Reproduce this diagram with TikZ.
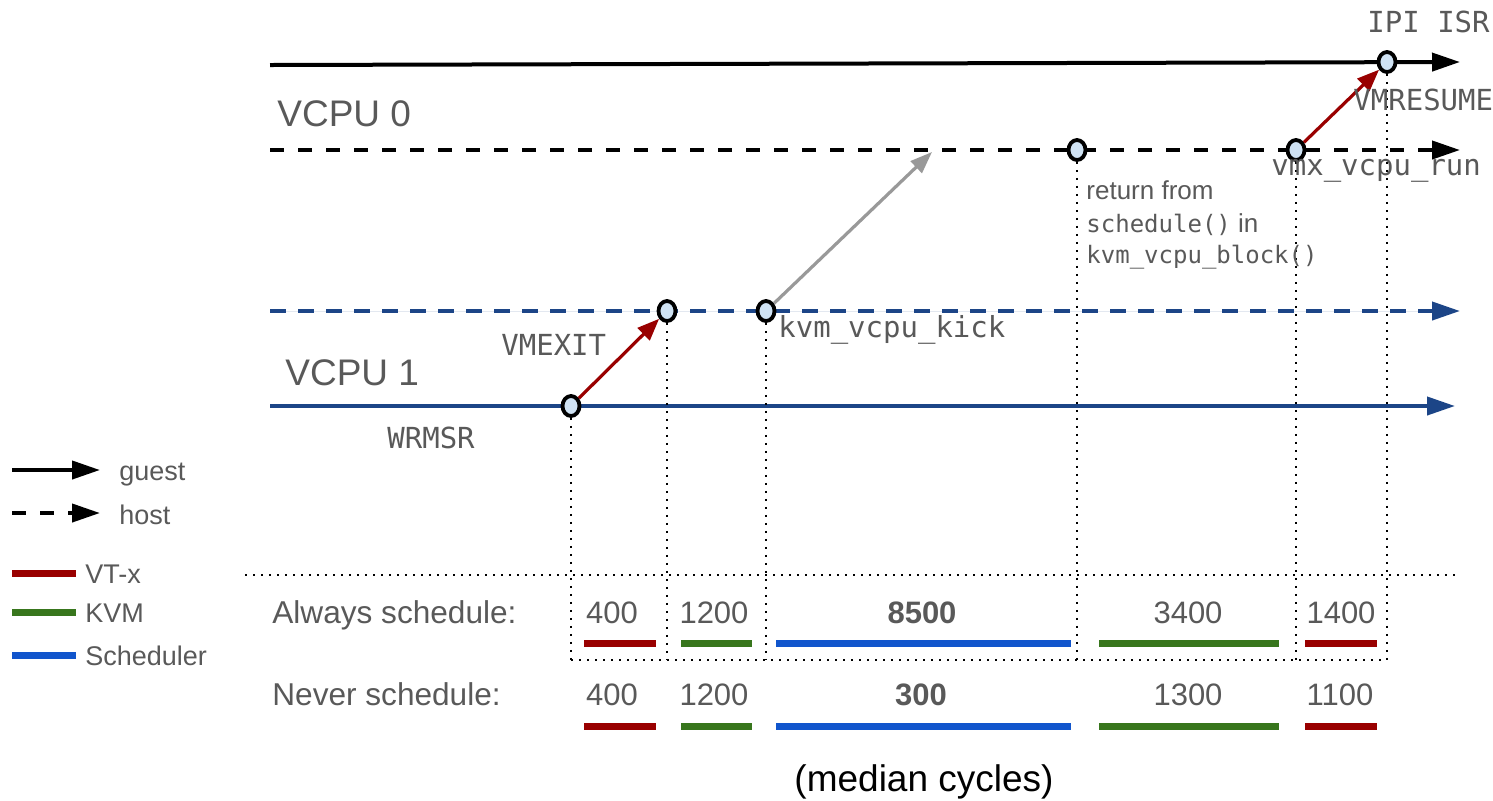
\documentclass[tikz,border=0pt]{standalone}
\usepackage{fontspec}
\setmainfont{Liberation Sans}
\setmonofont{DejaVu Sans Mono}
\usetikzlibrary{arrows.meta,shapes.geometric}

\definecolor{txt}{HTML}{595959}
\definecolor{vtx}{HTML}{990000}
\definecolor{kvm}{HTML}{38761D}
\definecolor{sched}{HTML}{1155CC}
\definecolor{vblue}{HTML}{1C4587}
\definecolor{kick}{HTML}{999999}
\definecolor{evfill}{HTML}{CFE2F3}

\begin{document}
\begin{tikzpicture}[x=0.5pt,y=-0.5pt,
  timeline/.style={line width=2pt,-{Triangle[length=14pt,width=9pt]}},
  hostline/.style={timeline,dash pattern=on 7pt off 7pt},
  evt/.style={ellipse,draw=black,line width=1.9pt,fill=evfill,
    minimum width=8.5pt,minimum height=10pt,inner sep=0pt},
  jump/.style={line width=1.6pt,-{Triangle[length=11pt,width=8.5pt]}},
  guide/.style={line width=1pt,dash pattern=on 1pt off 3pt},
  mono/.style={font=\ttfamily\fontsize{14.5pt}{17pt}\selectfont,text=txt,inner sep=0pt,anchor=base west},
  smallmono/.style={font=\fontsize{13pt}{15pt}\selectfont,text=txt,inner sep=0pt,anchor=base west},
  cpulabel/.style={font=\fontsize{18.5pt}{22pt}\selectfont,text=txt,inner sep=0pt,anchor=base west},
  rowlabel/.style={font=\fontsize{15.8pt}{18pt}\selectfont,text=txt,inner sep=0pt,anchor=base west},
  num/.style={font=\fontsize{15.5pt}{18pt}\selectfont,text=txt,inner sep=0pt,anchor=base},
  bignum/.style={num,font=\fontsize{15.5pt}{18pt}\selectfont\bfseries},
  legtext/.style={font=\fontsize{13.5pt}{16pt}\selectfont,text=txt,inner sep=0pt,anchor=base west},
  bar/.style={line width=3.5pt}
]
\useasboundingbox (0,0) rectangle (1493,800);

% ---- time lines ----
\coordinate (g0s) at (270,65);  \coordinate (g0e) at (1460,62);
\coordinate (h0s) at (270,150); \coordinate (h0e) at (1460,150);
\coordinate (h1s) at (270,311); \coordinate (h1e) at (1460,311);
\coordinate (g1s) at (270,406); \coordinate (g1e) at (1455,406);
\draw[timeline] (g0s) -- (g0e);
\draw[hostline] (h0s) -- (h0e);
\draw[hostline,draw=vblue,fill=vblue,dash pattern=on 8pt off 6pt] (h1s) -- (h1e);
\draw[timeline,draw=vblue,fill=vblue] (g1s) -- (g1e);

\node[cpulabel] (cpu0) at (277,126) {VCPU 0};
\node[cpulabel] (cpu1) at (285,385) {VCPU 1};

% ---- table guides ----
\coordinate (topL) at (245,575); \coordinate (topR) at (1455,575);
\coordinate (botY) at (0,660);

% ---- events ----
\node[evt] (e1) at (571,406) {};
\node[evt] (e2) at (667,311) {};
\node[evt] (e3) at (766,311) {};
\node[evt] (e4) at (1077,150) {};
\node[evt] (e5) at (1296,150) {};
\node[evt] (e6) at (1387,62) {};
\coordinate (wake) at (932,152);

\foreach \e in {e1,e2,e3,e4,e5,e6}
  \draw[guide] (\e.south) -- (\e |- botY);
\draw[guide] (topL) -- (topR);
\draw[guide] (e1 |- botY) -- (e6 |- botY);

\draw[jump,draw=vtx,fill=vtx] (e1) -- (e2);
\draw[jump,draw=kick,fill=kick,-{Triangle[length=11pt,width=8pt]}] (e3) -- (wake);
\draw[jump,draw=vtx,fill=vtx] (e5) -- (e6);

% ---- event labels ----
\node[mono] (l1) at (387,448) {WRMSR};
\node[mono] (l2) at (501,355) {VMEXIT};
\node[mono] (l3) at (778,337) {kvm\_vcpu\_kick};
\node[mono] (l6a) at (1367,32) {IPI ISR};
\node[mono] (l6b) at (1353,110) {VMRESUME};
\node[mono] (l5) at (1271,175) {vmx\_vcpu\_run};
\node[smallmono] (l4a) at (1086,199) {return from};
\node[smallmono] (l4b) at (1086,232) {\fontsize{12pt}{14pt}\ttfamily schedule()\fontsize{13pt}{15pt}\rmfamily{} in};
\node[smallmono] (l4c) at (1086,263) {\fontsize{12pt}{14pt}\ttfamily kvm\_vcpu\_block()};

% ---- cycle table ----
\node[rowlabel] (always) at (272,623) {Always schedule:};
\node[rowlabel] (never) at (272,705) {Never schedule:};

\node[num] (a1) at (612,623) {400};
\node[num] (a2) at (714,623) {1200};
\node[bignum] (a3) at (922,623) {8500};
\node[num] (a4) at (1188,623) {3400};
\node[num] (a5) at (1341,623) {1400};

\node[num] (n1) at (612,705) {400};
\node[num] (n2) at (714,705) {1200};
\node[bignum] (n3) at (921,705) {300};
\node[num] (n4) at (1188,705) {1300};
\node[num] (n5) at (1340,705) {1100};

\foreach \y in {643,726} {
  \draw[bar,vtx] (584,\y) -- (656,\y);
  \draw[bar,kvm] (681,\y) -- (752,\y);
  \draw[bar,sched] (776,\y) -- (1071,\y);
  \draw[bar,kvm] (1099,\y) -- (1279,\y);
  \draw[bar,vtx] (1305,\y) -- (1377,\y);
}

\node[font=\fontsize{18.5pt}{22pt}\selectfont,inner sep=0pt,anchor=base] (median) at (924,791) {(median cycles)};

% ---- legend ----
\coordinate (lg1s) at (12,470); \coordinate (lg1e) at (100,470);
\coordinate (lg2s) at (12,513); \coordinate (lg2e) at (100,513);
\draw[timeline] (lg1s) -- (lg1e);
\draw[hostline] (lg2s) -- (lg2e);
\node[legtext] (lguest) at (119,480) {guest};
\node[legtext] (lhost) at (119,524) {host};
\draw[bar,vtx] (12,573) -- (76,573);
\draw[bar,kvm] (12,612) -- (76,612);
\draw[bar,sched] (12,655) -- (76,655);
\node[legtext] (lvtx) at (85,583) {VT-x};
\node[legtext] (lkvm) at (85,622) {KVM};
\node[legtext] (lsched) at (85,665) {Scheduler};
\end{tikzpicture}
\end{document}
